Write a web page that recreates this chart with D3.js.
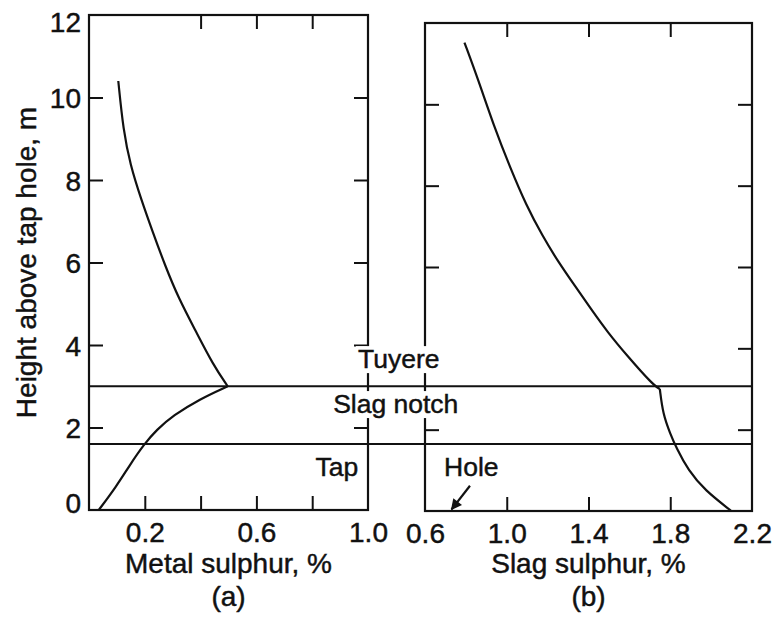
<!DOCTYPE html>
<html>
<head>
<meta charset="utf-8">
<script src="https://cdn.jsdelivr.net/npm/d3@7"></script>
<style>
  body { margin: 0; background: #fff; }
  svg { display: block; }
  text { font-family: "Liberation Sans", Arial, Helvetica, sans-serif; fill: #111; stroke: #111; stroke-width: 0.45px; }
</style>
</head>
<body>
<div id="chart"></div>
<script>
// Datos: [azufre %, altura m]
const metalUpper = [[0.105,10.4],[0.123,9.2],[0.148,8.37],[0.186,7.55],[0.229,6.73],[0.273,5.92],[0.322,5.12],[0.384,4.32],[0.445,3.52],[0.497,3.0]];
const metalLower = [[0.497,3.0],[0.397,2.69],[0.301,2.29],[0.242,1.94],[0.198,1.6],[0.146,1.09],[0.099,0.58],[0.035,0]];
const slagUpper = [[0.793,11.52],[0.86,10.61],[0.938,9.45],[1.017,8.44],[1.095,7.52],[1.174,6.77],[1.254,6.11],[1.333,5.54],[1.412,4.97],[1.493,4.4],[1.587,3.83],[1.714,3.11],[1.749,3.0]];
const slagLower = [[1.749,3.0],[1.764,2.39],[1.80,1.9],[1.83,1.55],[1.888,1.0],[1.969,0.51],[2.099,0]];

const heightTicks = [0, 2, 4, 6, 8, 10, 12];
const metalTicks = [0.2, 0.4, 0.6, 0.8, 1.0];
const metalLabels = [0.2, 0.6, 1.0];
const slagTicks = [0.6, 1.0, 1.4, 1.8, 2.2];

const tuyereLevel = 3.0;
const tapLevel = 1.6;

const width = 775, height = 628;
const svg = d3.select("#chart").append("svg")
  .attr("width", width).attr("height", height);

// Escalas
const xA = d3.scaleLinear().domain([0, 1]).range([89, 368]);
const yA = d3.scaleLinear().domain([0, 12]).range([510, 15]);
const xB = d3.scaleLinear().domain([0.6, 2.2]).range([425, 752]);
const yB = d3.scaleLinear().domain([0, 12]).range([511, 23]);

const ink = "#111";
const fmt = d => d3.format(".1f")(d);
const axisFont = "28px";

// Funcion para dibujar un panel con ticks hacia dentro
function drawPanel(x, y, xTicks, xLabelVals, topTicks, xName, tag) {
  const [x0, x1] = x.domain();
  const g = svg.append("g");

  // eje izquierdo (etiquetas solo en el panel a)
  const left = g.append("g")
    .attr("transform", `translate(${x(x0)},0)`)
    .call(d3.axisLeft(y).tickValues(heightTicks).tickSizeInner(-14).tickSizeOuter(0).tickPadding(8)
      .tickFormat(d => tag === "a" ? d : ""));
  left.selectAll(".tick line").filter(d => d === 0 || d === 12).remove();

  // eje derecho solo ticks
  const right = g.append("g")
    .attr("transform", `translate(${x(x1)},0)`)
    .call(d3.axisRight(y).tickValues([2, 4, 6, 8, 10]).tickSizeInner(-14).tickSizeOuter(0).tickFormat(""));

  // eje inferior
  const bottom = g.append("g")
    .attr("transform", `translate(0,${y(0)})`)
    .call(d3.axisBottom(x).tickValues(xTicks).tickSizeInner(-14).tickSizeOuter(0).tickPadding(10)
      .tickFormat(d => xLabelVals.some(v => Math.abs(v - d) < 1e-9) ? fmt(d) : ""));
  bottom.selectAll(".tick line").filter(d => Math.abs(d - x0) < 1e-9 || Math.abs(d - x1) < 1e-9).remove();

  // eje superior
  const top = g.append("g")
    .attr("transform", `translate(0,${y(12)})`)
    .call(d3.axisTop(x).tickValues(topTicks).tickSizeInner(-14).tickSizeOuter(0).tickFormat(""));

  [left, right, bottom, top].forEach(a => {
    a.select(".domain").remove();
    a.attr("font-size", null).attr("font-family", null);
    a.selectAll(".tick line").attr("stroke", ink).attr("stroke-width", 2);
    a.selectAll("text").style("font-size", axisFont).attr("fill", ink);
  });
  // 0 y 12 un poco hacia dentro, como en el original
  left.selectAll("text").attr("dy", d => d === 0 ? "0.1em" : d === 12 ? "0.6em" : "0.36em");
  bottom.selectAll("text").attr("dy", "0.78em");

  // marco
  g.append("rect")
    .attr("x", x(x0)).attr("y", y(12))
    .attr("width", x(x1) - x(x0)).attr("height", y(0) - y(12))
    .attr("fill", "none").attr("stroke", ink).attr("stroke-width", 2.2);

  // titulo del eje x y letra del panel
  const cx = (x(x0) + x(x1)) / 2;
  svg.append("text").attr("x", cx).attr("y", 573)
    .attr("text-anchor", "middle").style("font-size", axisFont).text(xName);
  svg.append("text").attr("x", cx).attr("y", 606)
    .attr("text-anchor", "middle").style("font-size", axisFont).text(`(${tag})`);
  return g;
}

drawPanel(xA, yA, metalTicks, metalLabels, [0.4, 0.6, 0.8], "Metal sulphur, %", "a");
drawPanel(xB, yB, slagTicks, slagTicks, [1.0, 1.4, 1.8], "Slag sulphur, %", "b");

// titulo eje y
svg.append("text")
  .attr("transform", `translate(36,${(yA(0) + yA(12)) / 2}) rotate(-90)`)
  .attr("text-anchor", "middle").style("font-size", "28px")
  .text("Height above tap hole, m");

// etiquetas con fondo blanco (tapan los ejes)
function label(txt, px, py, anchor) {
  const t = svg.append("text").attr("x", px).attr("y", py)
    .attr("text-anchor", anchor || "start").style("font-size", "26.5px").text(txt);
  const bb = t.node().getBBox();
  svg.insert("rect", () => t.node())
    .attr("x", bb.x - 2).attr("y", bb.y + 2)
    .attr("width", bb.width + 4).attr("height", bb.height - 3)
    .attr("fill", "#fff");
}
label("Tuyere", xA(0.964), yA(3.44));
label("Slag notch", xA(0.875), yA(2.35));
label("Tap", xA(0.965), yA(0.82), "end");
label("Hole", xB(0.693), yB(0.86));

// lineas horizontales de nivel
[tuyereLevel, tapLevel].forEach(h => {
  svg.append("line")
    .attr("x1", xA(0)).attr("x2", xB(2.2))
    .attr("y1", yA(h)).attr("y2", yA(h))
    .attr("stroke", ink).attr("stroke-width", 2);
});

// curvas (suavizadas)
const lineA = d3.line().x(d => xA(d[0])).y(d => yA(d[1])).curve(d3.curveBasis);
const lineB = d3.line().x(d => xB(d[0])).y(d => yB(d[1])).curve(d3.curveBasis);
[metalUpper, metalLower].forEach(s => {
  svg.append("path").attr("d", lineA(s))
    .attr("fill", "none").attr("stroke", ink).attr("stroke-width", 2.2);
});
[slagUpper, slagLower].forEach(s => {
  svg.append("path").attr("d", lineB(s))
    .attr("fill", "none").attr("stroke", ink).attr("stroke-width", 2.2);
});

// flecha "Hole"
svg.append("defs").append("marker")
  .attr("id", "arrow").attr("viewBox", "0 0 10 10")
  .attr("refX", 9).attr("refY", 5)
  .attr("markerWidth", 6).attr("markerHeight", 5)
  .attr("orient", "auto")
  .append("path").attr("d", "M0,0 L10,5 L0,10 Z").attr("fill", ink);
svg.append("line")
  .attr("x1", xB(0.82)).attr("y1", yB(0.62))
  .attr("x2", xB(0.73)).attr("y2", yB(0.04))
  .attr("stroke", ink).attr("stroke-width", 2.2)
  .attr("marker-end", "url(#arrow)");
</script>
</body>
</html>
